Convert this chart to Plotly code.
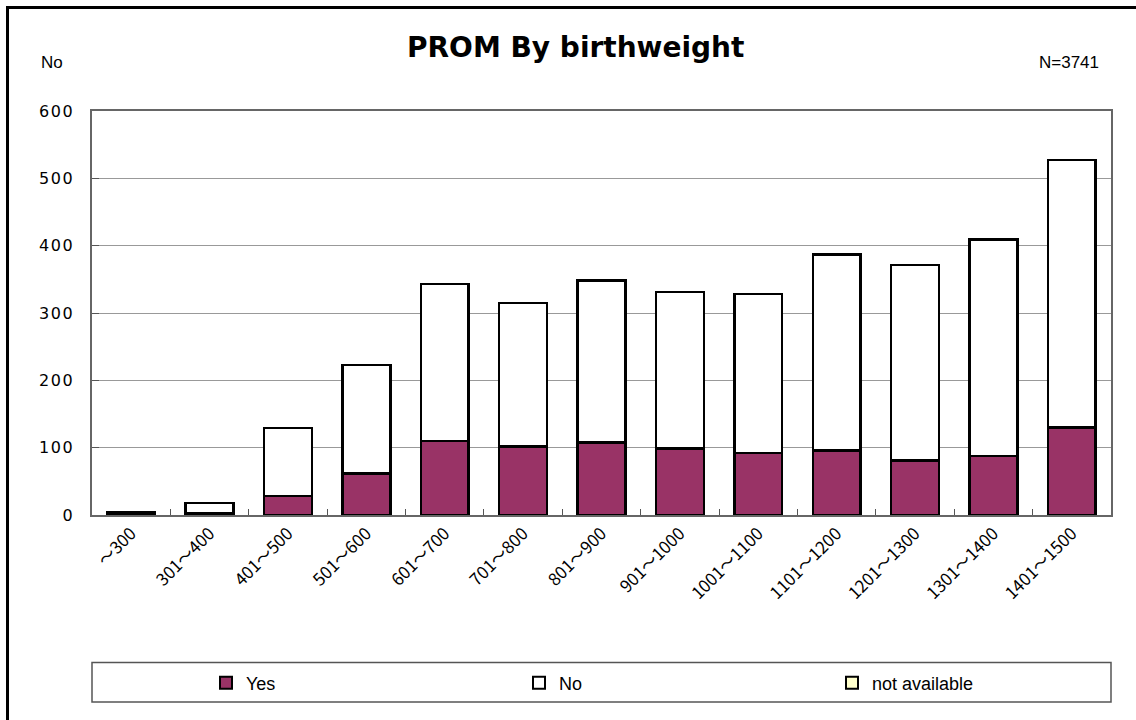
import plotly.graph_objects as go

categories = ["～300", "301～400", "401～500", "501～600", "601～700", "701～800",
              "801～900", "901～1000", "1001～1100", "1101～1200", "1201～1300",
              "1301～1400", "1401～1500"]
yes_vals = [1, 2, 28, 62, 110, 102, 108, 99, 92, 96, 81, 88, 130]
no_vals = [3, 16, 101, 161, 233, 213, 240, 232, 236, 291, 290, 321, 397]
na_vals = [0, 0, 0, 0, 0, 0, 0, 0, 0, 0, 0, 0, 0]
y_ticks = [0, 100, 200, 300, 400, 500, 600]
y_ticktext = ["\u200a".join(str(v)) for v in y_ticks]

# pixel geometry of the plot area (page coords)
PL, PR, PT, PB = 92, 1111, 111, 515
PW, PH = PR - PL, PB - PT


def px(x):
    return (x - PL) / PW


def py(y):
    return (PB - y) / PH


fig = go.Figure()
fig.add_trace(go.Bar(x=categories, y=yes_vals, name="Yes",
                     marker=dict(color="#993366", line=dict(color="black", width=2.5))))
fig.add_trace(go.Bar(x=categories, y=no_vals, name="No",
                     marker=dict(color="white", line=dict(color="black", width=2.5))))
fig.add_trace(go.Bar(x=categories, y=na_vals, name="not available",
                     marker=dict(color="#FFFFCC", line=dict(color="black", width=2.5))))

fig.update_layout(
    barmode="stack",
    bargap=0.39,
    width=1136, height=720,
    margin=dict(l=PL, r=1136 - PR, t=PT, b=720 - PB, autoexpand=False),
    paper_bgcolor="white",
    plot_bgcolor="white",
    font=dict(family="Liberation Sans, Arial, sans-serif", color="black"),
    showlegend=True,
    legend=dict(orientation="h", x=px(206), xanchor="left", y=py(683), yanchor="middle",
                entrywidth=268, entrywidthmode="pixels",
                font=dict(size=18, family="Liberation Sans Narrow, Liberation Sans, Arial"),
                bgcolor="rgba(0,0,0,0)", traceorder="normal", itemsizing="constant",
                itemwidth=30),
    xaxis=dict(showline=True, linecolor="#666666", linewidth=2, mirror=True,
               tickangle=-45,
               tickfont=dict(size=17, family="Noto Sans CJK JP"),
               showgrid=False),
    yaxis=dict(range=[0, 600], tickvals=y_ticks, ticktext=y_ticktext,
               showline=True, linecolor="#666666",
               linewidth=2, mirror=True, ticks="inside", ticklen=7, tickcolor="#555555",
               ticklabelstandoff=14,
               showgrid=True, gridcolor="#999999", gridwidth=1,
               tickfont=dict(size=16, family="DejaVu Sans, sans-serif"),
               zeroline=False),
    shapes=[
        dict(type="rect", xref="paper", yref="paper", x0=0, x1=1.0,
             y0=py(702), y1=py(662.5),
             line=dict(color="#555555", width=1.5), fillcolor="rgba(0,0,0,0)"),
        dict(type="line", xref="paper", yref="paper", x0=px(7.5), x1=px(7.5),
             y0=py(722), y1=py(6),
             line=dict(color="black", width=3)),
        dict(type="line", xref="paper", yref="paper", x0=px(6), x1=px(1140),
             y0=py(7.5), y1=py(7.5),
             line=dict(color="black", width=3)),
    ],
    annotations=[
        dict(text="<b>PROM By birthweight</b>", xref="paper", yref="paper",
             x=px(575), y=py(47), xanchor="center", yanchor="middle",
             showarrow=False, font=dict(size=28, family="DejaVu Sans, sans-serif")),
        dict(text="No", xref="paper", yref="paper", x=px(39), y=py(63),
             xanchor="left", yanchor="middle", showarrow=False,
             font=dict(size=17, family="Liberation Sans, Arial")),
        dict(text="N=3741", xref="paper", yref="paper", x=px(1101), y=py(63),
             xanchor="right", yanchor="middle", showarrow=False,
             font=dict(size=17, family="Liberation Sans Narrow, Liberation Sans, Arial")),
    ],
)

# small tick marks between categories on the x axis
fig.update_xaxes(ticks="inside", ticklen=6, tickcolor="#555555", tickson="boundaries")

fig.write_html("out.html", config={"displayModeBar": False},
               post_script="document.body.style.margin='0';")
